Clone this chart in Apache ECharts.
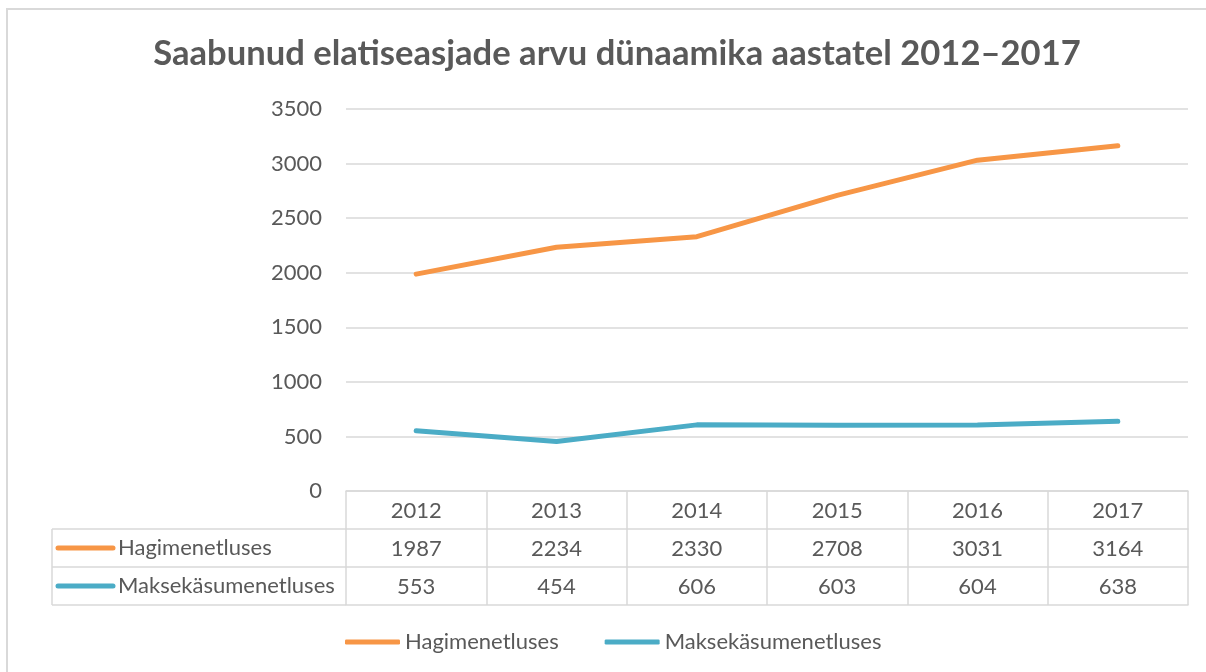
<!DOCTYPE html>
<html>
<head>
<meta charset="utf-8">
<script src="https://cdn.jsdelivr.net/npm/echarts@6/dist/echarts.min.js"></script>
<style>
  html, body { margin: 0; padding: 0; background: #fff; }
  #chart { width: 1206px; height: 672px; }
</style>
</head>
<body>
<div id="chart"></div>
<script>
// andmed
const years = ['2012', '2013', '2014', '2015', '2016', '2017']
const hagi = [1987, 2234, 2330, 2708, 3031, 3164]
const makse = [553, 454, 606, 603, 604, 638]
const seriesNames = ['Hagimenetluses', 'Maksekäsumenetluses']
const colors = ['#F79646', '#4BACC6']

const font = 'Lato'
const fontSize = 22
const textColor = '#595959'
const lineGray = '#d9d9d9'

// tabeli mõõdud
const gridLeft = 346
const gridRight = 1188
const axisY = 491
const rowH = 38
const tableLeft = 52

const myChart = echarts.init(document.getElementById('chart'))

// vasak veerg (rea pealkirjad)
const rowGraphics = []
;[hagi, makse].forEach((_, i) => {
  const yMid = axisY + rowH * (i + 1) + rowH / 2
  rowGraphics.push({
    type: 'line',
    shape: { x1: 58, y1: yMid, x2: 113, y2: yMid },
    style: { stroke: colors[i], lineWidth: 5, lineCap: 'round' }
  })
  rowGraphics.push({
    type: 'text',
    x: 118, y: yMid,
    style: { text: seriesNames[i], fill: textColor, font: fontSize + 'px ' + font, textVerticalAlign: 'middle' }
  })
})
for (let r = 1; r <= 3; r++) {
  rowGraphics.push({
    type: 'line',
    shape: { x1: tableLeft, y1: axisY + rowH * r, x2: gridLeft, y2: axisY + rowH * r },
    style: { stroke: lineGray, lineWidth: 1.5 }
  })
}
rowGraphics.push({
  type: 'line',
  shape: { x1: tableLeft, y1: axisY + rowH, x2: tableLeft, y2: axisY + rowH * 3 },
  style: { stroke: lineGray, lineWidth: 1.5 }
})
// välimine raam
rowGraphics.push({
  type: 'rect',
  shape: { x: 7, y: 9, width: 1230, height: 700 },
  style: { fill: 'none', stroke: lineGray, lineWidth: 2 }
})

const tableAxis = (data, offset, showLabel) => ({
  type: 'category',
  position: 'bottom',
  offset: offset,
  data: data,
  axisLine: { show: true, lineStyle: { color: lineGray, width: 1.5 } },
  axisTick: { show: false },
  axisLabel: { show: showLabel, margin: 9, color: textColor, fontSize: fontSize, fontFamily: font },
  splitLine: { show: false }
})

const option = {
  animation: false,
  title: {
    text: 'Saabunud elatiseasjade arvu dünaamika aastatel 2012–2017',
    left: 612,
    textAlign: 'center',
    top: 31,
    textStyle: { color: textColor, fontSize: 34.6, fontWeight: 'bold', fontFamily: font }
  },
  legend: {
    data: seriesNames,
    left: 340,
    top: 626,
    icon: 'roundRect',
    itemWidth: 55,
    itemHeight: 5,
    itemGap: 46,
    textStyle: { color: textColor, fontSize: fontSize, fontFamily: font }
  },
  grid: { left: gridLeft, right: 1206 - gridRight, top: 109, bottom: 672 - axisY },
  xAxis: [
    {
      type: 'category',
      data: years,
      boundaryGap: true,
      axisLine: { show: true, lineStyle: { color: lineGray, width: 1.5 } },
      axisTick: { show: true, length: rowH * 3, lineStyle: { color: lineGray, width: 1.5 } },
      axisLabel: { margin: 9, color: textColor, fontSize: fontSize, fontFamily: font }
    },
    tableAxis(hagi.map(String), rowH, true),
    tableAxis(makse.map(String), rowH * 2, true),
    tableAxis(years, rowH * 3, false)
  ],
  yAxis: {
    type: 'value',
    min: 0,
    max: 3500,
    interval: 500,
    axisLine: { show: false },
    axisTick: { show: false },
    axisLabel: { margin: 24, color: textColor, fontSize: fontSize, fontFamily: font, formatter: v => String(v) },
    splitLine: { lineStyle: { color: lineGray, width: 1.5 } }
  },
  series: [
    {
      name: seriesNames[0],
      type: 'line',
      data: hagi,
      symbol: 'none',
      lineStyle: { color: colors[0], width: 5, cap: 'round' },
      itemStyle: { color: colors[0] }
    },
    {
      name: seriesNames[1],
      type: 'line',
      data: makse,
      symbol: 'none',
      lineStyle: { color: colors[1], width: 5, cap: 'round' },
      itemStyle: { color: colors[1] }
    }
  ],
  graphic: rowGraphics
}
myChart.setOption(option)
</script>
</body>
</html>
